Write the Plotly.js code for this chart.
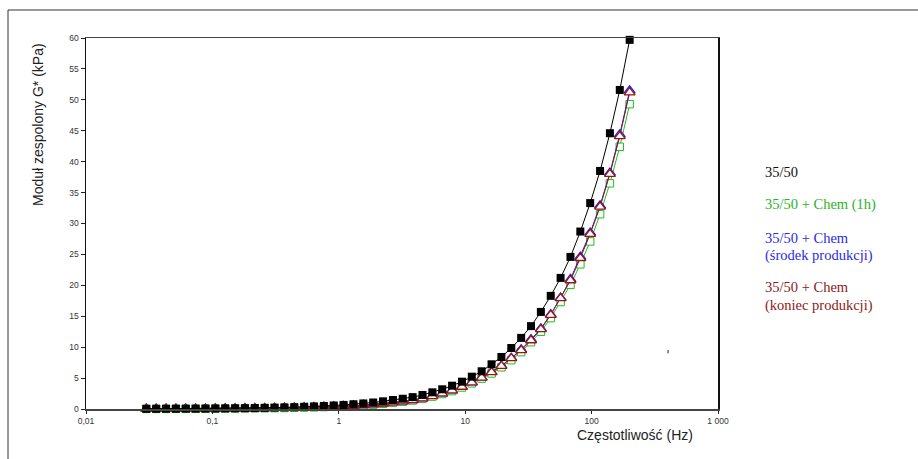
<!DOCTYPE html>
<html>
<head>
<meta charset="utf-8">
<script src="https://cdn.plot.ly/plotly-3.0.1.min.js"></script>
<style>html,body{margin:0;padding:0;background:#fff}#chart{width:918px;height:459px}</style>
</head>
<body>
<div id="chart"></div>
<script>
// Frequency (Hz)
var freq = [0.0300, 0.0359, 0.04297, 0.05143, 0.06155, 0.07366, 0.08816, 0.1055, 0.1263, 0.1512,
            0.1809, 0.2165, 0.2592, 0.3102, 0.3712, 0.4443, 0.5318, 0.6364, 0.7617, 0.9117,
            1.091, 1.306, 1.563, 1.871, 2.239, 2.680, 3.207, 3.839, 4.594, 5.499,
            6.581, 7.876, 9.426, 11.28, 13.50, 16.16, 19.34, 23.15, 27.71, 33.16,
            39.69, 47.50, 56.85, 68.05, 81.44, 97.46, 116.7, 139.6, 167.1, 200.0];

// G* (kPa)
var g_base = [0.025, 0.030, 0.035, 0.042, 0.050, 0.059, 0.070, 0.083, 0.098, 0.116,
              0.137, 0.162, 0.19, 0.22, 0.26, 0.30, 0.36, 0.42, 0.49, 0.57,
              0.66, 0.77, 0.90, 1.05, 1.24, 1.46, 1.66, 1.92, 2.27, 2.70,
              3.19, 3.77, 4.42, 5.23, 6.10, 7.23, 8.41, 9.87, 11.5, 13.4,
              15.7, 18.3, 21.2, 24.6, 28.7, 33.3, 38.5, 44.6, 51.6, 59.7];

var g_chem1h = [0.017, 0.020, 0.024, 0.029, 0.034, 0.040, 0.047, 0.055, 0.065, 0.077,
                0.090, 0.106, 0.124, 0.145, 0.17, 0.20, 0.23, 0.27, 0.32, 0.38,
                0.44, 0.51, 0.60, 0.71, 0.85, 1.02, 1.18, 1.38, 1.65, 2.01,
                2.43, 2.90, 3.48, 4.15, 4.92, 5.75, 6.75, 7.9, 9.2, 10.8,
                12.5, 14.7, 17.3, 20.1, 23.4, 27.1, 31.5, 36.5, 42.4, 49.3];

var g_chemMid = [0.018, 0.022, 0.026, 0.030, 0.035, 0.042, 0.049, 0.058, 0.068, 0.080,
                 0.094, 0.110, 0.130, 0.152, 0.177, 0.207, 0.243, 0.285, 0.335, 0.39,
                 0.46, 0.54, 0.63, 0.74, 0.88, 1.06, 1.23, 1.43, 1.72, 2.09,
                 2.52, 3.00, 3.60, 4.31, 5.10, 5.98, 7.0, 8.25, 9.6, 11.25,
                 13.0, 15.3, 18.0, 21.0, 24.6, 28.5, 32.9, 38.2, 44.4, 51.5];

var g_chemEnd = [0.018, 0.021, 0.025, 0.030, 0.035, 0.041, 0.048, 0.057, 0.067, 0.079,
                 0.093, 0.109, 0.128, 0.15, 0.175, 0.205, 0.24, 0.28, 0.33, 0.39,
                 0.45, 0.53, 0.62, 0.73, 0.87, 1.05, 1.22, 1.42, 1.70, 2.07,
                 2.50, 2.98, 3.58, 4.28, 5.07, 5.94, 6.95, 8.2, 9.5, 11.1,
                 12.9, 15.2, 17.9, 20.8, 24.4, 28.3, 32.7, 38.0, 44.1, 51.2];

var seriesNames = ["35/50", "35/50 + Chem (1h)", "35/50 + Chem (środek produkcji)", "35/50 + Chem (koniec produkcji)"];
var legendLines = [["35/50"], ["35/50 + Chem (1h)"], ["35/50 + Chem", "(środek produkcji)"], ["35/50 + Chem", "(koniec produkcji)"]];

var xTickVals = [0.01, 0.1, 1, 10, 100, 1000];
var xTickText = ["0,01", "0,1", "1", "10", "100", "1 000"];
var xMinorVals = [0.05, 0.5, 5, 50, 500];

var cBlack = "#000000", cGreen = "#1fbf1f", cBlue = "#1a1aff", cRed = "#9a1414";
var legendColors = ["#111111", "#27b427", "#2a2ae6", "#8c2020"];

var traces = [
  {x: freq, y: g_chem1h, name: seriesNames[1], mode: "lines+markers", cliponaxis: false,
   line: {color: cGreen, width: 1},
   marker: {symbol: "square", size: 7.5, color: "#ffffff", line: {color: cGreen, width: 1}}},
  {x: freq, y: g_chemMid, name: seriesNames[2], mode: "lines+markers", cliponaxis: false,
   line: {color: cBlue, width: 1},
   marker: {symbol: "triangle-up", size: 9.5, color: "#ffffff", line: {color: cBlue, width: 1.3}}},
  {x: freq, y: g_chemEnd, name: seriesNames[3], mode: "lines+markers", cliponaxis: false,
   line: {color: cRed, width: 1},
   marker: {symbol: "triangle-up", size: 9.5, color: "#ffffff", line: {color: cRed, width: 1.3}}},
  {x: freq, y: g_base, name: seriesNames[0], mode: "lines+markers", cliponaxis: false,
   line: {color: cBlack, width: 1},
   marker: {symbol: "square", size: 8, color: cBlack, line: {color: cBlack, width: 0}}}
];

var tickFont = {family: "Liberation Sans, Arial, sans-serif", size: 8.5, color: "#333"};

// Legend annotation positions (paper coords)
var legendY = [[0.6396], [0.5499], [0.4600, 0.4150], [0.3284, 0.2803]];
var annotations = [
  {xref: "paper", yref: "paper", x: -0.0759, y: 0.7655, text: "Moduł zespolony G* (kPa)", textangle: -90,
   showarrow: false, xanchor: "center", yanchor: "middle",
   font: {family: "Liberation Sans, Arial, sans-serif", size: 14, color: "#222"}},
  {xref: "paper", yref: "paper", x: 0.868, y: -0.0701, text: "Częstotliwość (Hz)",
   showarrow: false, xanchor: "center", yanchor: "middle",
   font: {family: "Liberation Sans, Arial, sans-serif", size: 14, color: "#222"}}
];
legendLines.forEach(function (lines, i) {
  lines.forEach(function (t, j) {
    annotations.push({xref: "paper", yref: "paper", x: 1.0712, y: legendY[i][j], text: t,
      showarrow: false, xanchor: "left", yanchor: "middle",
      font: {family: "Liberation Serif, Times New Roman, serif", size: 14.5, color: legendColors[i]}});
  });
});

var layout = {
  width: 918, height: 459,
  margin: {l: 86, r: 200, t: 38, b: 50, pad: 0},
  paper_bgcolor: "#ffffff", plot_bgcolor: "#ffffff",
  showlegend: false,
  xaxis: {type: "log", range: [-2, 3], tickmode: "array", tickvals: xTickVals, ticktext: xTickText,
          ticks: "outside", ticklen: 3, tickwidth: 1, tickcolor: "#222",
          showgrid: false, zeroline: false, showline: true, linecolor: "#444", linewidth: 1.5,
          mirror: true, tickfont: tickFont},
  xaxis2: {type: "log", range: [-2, 3], overlaying: "x", anchor: "y", side: "bottom",
           tickmode: "array", tickvals: xTickVals.concat(xMinorVals), showticklabels: false,
           ticks: "inside", ticklen: 3, tickwidth: 1, tickcolor: "#222",
           showgrid: false, zeroline: false, showline: false},
  yaxis: {range: [0, 60], dtick: 5, tick0: 0, ticks: "outside", ticklen: 4, tickwidth: 1, tickcolor: "#222",
          showgrid: false, zeroline: false, showline: true, linecolor: "#111", linewidth: 1.5,
          mirror: true, tickfont: tickFont},
  yaxis2: {range: [0, 60], overlaying: "y", anchor: "x", side: "left",
           dtick: 5, tick0: 0, showticklabels: false, ticks: "inside", ticklen: 2, tickwidth: 1, tickcolor: "#222",
           minor: {dtick: 1, ticks: "inside", ticklen: 2, tickcolor: "#222", tickwidth: 1},
           showgrid: false, zeroline: false, showline: false},
  annotations: annotations,
  shapes: [
    {type: "line", xref: "paper", yref: "paper", x0: -0.1234, x1: 1.32, y0: 1.0755, y1: 1.0755,
     line: {color: "#333", width: 1}},
    {type: "line", xref: "paper", yref: "paper", x0: -0.1234, x1: -0.1234, y0: 1.0755, y1: -0.14,
     line: {color: "#333", width: 1}},
    {type: "line", xref: "paper", yref: "paper", x0: 0.921, x1: 0.921, y0: 0.159, y1: 0.150,
     line: {color: "#222", width: 1}}
  ]
};

Plotly.newPlot("chart", traces, layout, {displayModeBar: false, staticPlot: true});
</script>
</body>
</html>
